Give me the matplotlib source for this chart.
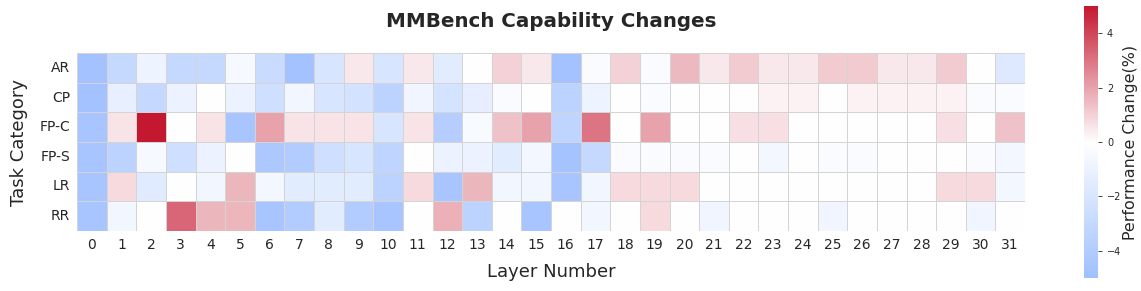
import matplotlib
matplotlib.use("Agg")
import matplotlib.pyplot as plt
import numpy as np
import seaborn as sns
from matplotlib.colors import LinearSegmentedColormap

sns.set_style("white")

tasks = ["AR", "CP", "FP-C", "FP-S", "LR", "RR"]
layers = list(range(32))

# 각 task 의 layer 별 성능 변화 (%)
ar = [-4.8, -3.0, -0.9, -3.0, -3.0, -0.5, -2.8, -4.8, -2.0, 0.5, -2.0, 0.5, -1.5, 0.0, 1.0, 0.5,
      -4.8, -0.3, 1.0, -0.3, 1.5, 0.5, 1.1, 0.5, 0.5, 1.1, 1.1, 0.5, 0.5, 1.1, 0.0, -1.7]
cp = [-4.8, -1.2, -3.0, -1.0, 0.0, -1.0, -2.5, -0.7, -2.0, -2.3, -3.5, -0.8, -2.2, -1.3, -0.3, 0.0,
      -3.5, -0.9, 0.0, -0.3, 0.0, 0.0, 0.0, 0.3, 0.3, 0.0, 0.3, 0.3, 0.3, 0.3, -0.3, -0.3]
fpc = [-4.5, 0.6, 5.0, 0.0, 0.6, -4.5, 2.0, 0.6, 0.6, 0.6, -2.0, 0.6, -3.8, -0.4, 1.3, 2.0,
       -3.3, 3.0, 0.0, 2.0, 0.0, 0.0, 0.7, 0.7, 0.0, 0.0, 0.0, 0.0, 0.0, 0.7, 0.0, 1.3]
fps = [-4.5, -3.5, -0.5, -2.5, -1.0, 0.0, -4.3, -4.0, -2.5, -2.0, -3.3, 0.0, -1.0, -1.0, -1.5, -0.6,
       -4.7, -3.0, -0.3, -0.3, -0.3, -0.3, 0.0, -0.6, 0.0, -0.3, -0.3, 0.0, 0.0, 0.0, -0.3, -0.6]
lr = [-4.5, 0.8, -1.6, 0.0, -0.7, 1.6, -0.6, -1.5, -1.5, -1.5, -3.5, 0.8, -4.5, 1.6, -0.7, -0.7,
      -4.5, -0.7, 0.8, 0.8, 0.8, 0.0, 0.0, 0.0, 0.0, 0.0, 0.0, 0.0, 0.0, 0.8, 0.8, -0.6]
rr = [-4.5, -0.7, 0.0, 3.3, 1.6, 1.6, -4.5, -4.0, -1.5, -4.0, -4.5, 0.0, 1.7, -3.5, 0.0, -4.5,
      0.0, -0.7, 0.0, 0.8, 0.0, -0.8, 0.0, 0.0, 0.0, -0.8, 0.0, 0.0, 0.0, 0.0, -0.8, 0.0]

data = np.array([ar, cp, fpc, fps, lr, rr])

cmap = LinearSegmentedColormap.from_list("bwr_soft", ["#9fbfff", "#ffffff", "#c41830"])

fig = plt.figure(figsize=(11.41, 2.91), dpi=100)
ax = fig.add_axes([77 / 1141, 1 - 231 / 291, 948 / 1141, 178 / 291])
cax = fig.add_axes([1084 / 1141, 1 - 278 / 291, 14 / 1141, 272 / 291])

sns.heatmap(data, ax=ax, cbar_ax=cax, cmap=cmap, vmin=-5, vmax=5, center=0,
            linewidths=0.6, linecolor="#d4d4d4",
            xticklabels=layers, yticklabels=tasks)

ax.set_title("MMBench Capability Changes", fontsize=14.3, fontweight="bold", pad=19, color="#262626")
ax.set_xlabel("Layer Number", fontsize=13, labelpad=8, color="#262626")
ax.set_ylabel("Task Category", fontsize=13, labelpad=8, color="#262626")
ax.tick_params(axis="both", length=0, labelsize=10, colors="#262626", pad=5)
plt.setp(ax.get_yticklabels(), rotation=0)
plt.setp(ax.get_xticklabels(), rotation=0)

cax.set_yticks([-4, -2, 0, 2, 4])
cax.tick_params(labelsize=7, length=3, width=0.6, colors="#262626")
cax.set_ylabel("Performance Change(%)", fontsize=11.4, color="#262626", labelpad=1)

plt.savefig("out.png", dpi=100)
plt.close()
